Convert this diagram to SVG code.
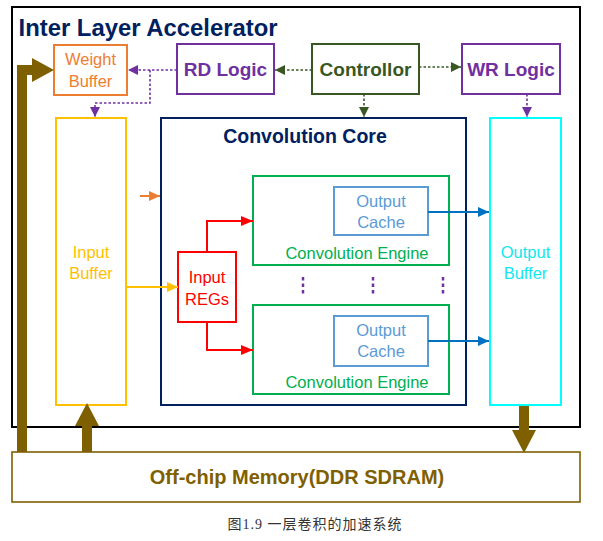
<svg xmlns="http://www.w3.org/2000/svg" width="603" height="541" viewBox="0 0 603 541">
<style>
text{font-family:"Liberation Sans",Arial,sans-serif;text-anchor:middle}
.b{font-weight:bold}
.n{font-size:16.5px}
.box{fill:#fff;stroke-width:2}
.dot{fill:none;stroke-width:1.6;stroke-dasharray:2.5 2}
.sol{fill:none;stroke-width:2}
</style>
<defs>
<marker id="aP" markerUnits="userSpaceOnUse" markerWidth="12" markerHeight="12" refX="10" refY="5" orient="auto"><path d="M0,0 L10,5 L0,10 Z" fill="#7030A0"/></marker>
<marker id="aG" markerUnits="userSpaceOnUse" markerWidth="12" markerHeight="12" refX="10" refY="5" orient="auto"><path d="M0,0 L10,5 L0,10 Z" fill="#385723"/></marker>
<marker id="aR" markerUnits="userSpaceOnUse" markerWidth="14" markerHeight="14" refX="12" refY="5" orient="auto"><path d="M0,0 L12,5 L0,10 Z" fill="#FF0000"/></marker>
<marker id="aO" markerUnits="userSpaceOnUse" markerWidth="14" markerHeight="14" refX="11" refY="5" orient="auto"><path d="M0,0 L11,5 L0,10 Z" fill="#ED7D31"/></marker>
<marker id="aY" markerUnits="userSpaceOnUse" markerWidth="14" markerHeight="14" refX="11" refY="5" orient="auto"><path d="M0,0 L11,5 L0,10 Z" fill="#FFC000"/></marker>
<marker id="aB" markerUnits="userSpaceOnUse" markerWidth="14" markerHeight="14" refX="11" refY="5" orient="auto"><path d="M0,0 L11,5 L0,10 Z" fill="#0070C0"/></marker>
</defs>
<rect width="603" height="541" fill="#fff"/>

<g id="accelerator">
<rect x="12" y="7" width="568" height="420" fill="#fff" stroke="#000" stroke-width="2"/>
<text x="148" y="36" class="b" font-size="23.5" fill="#002060" textLength="259" lengthAdjust="spacingAndGlyphs">Inter Layer Accelerator</text>
</g>

<g id="memory">
<rect x="12" y="452" width="568" height="50" fill="#fff" stroke="#7F6000" stroke-width="1.6"/>
<text x="297" y="484" class="b" font-size="20" fill="#7F6000">Off-chip Memory(DDR SDRAM)</text>
</g>

<g id="weight-buffer">
<rect x="54" y="45" width="73" height="50" class="box" stroke="#ED7D31"/>
<text x="90.5" y="65" class="n" fill="#ED7D31">Weight</text>
<text x="90.5" y="87" class="n" fill="#ED7D31">Buffer</text>
</g>

<g id="rd-logic">
<rect x="177" y="44" width="97" height="50" class="box" stroke="#7030A0"/>
<text x="225.5" y="76" class="b" font-size="19" fill="#7030A0">RD Logic</text>
</g>

<g id="controllor">
<rect x="312" y="44" width="107" height="50" class="box" stroke="#385723"/>
<text x="365.5" y="76" class="b" font-size="19" fill="#385723">Controllor</text>
</g>

<g id="wr-logic">
<rect x="462" y="44" width="98" height="50" class="box" stroke="#7030A0"/>
<text x="511" y="76" class="b" font-size="19" fill="#7030A0">WR Logic</text>
</g>

<g id="input-buffer">
<rect x="56" y="118" width="70" height="287" class="box" stroke="#FFC000"/>
<text x="91" y="258" class="n" fill="#FFC000">Input</text>
<text x="91" y="279" class="n" fill="#FFC000">Buffer</text>
</g>

<g id="convolution-core">
<rect x="161" y="118" width="305" height="287" class="box" stroke="#002060"/>
<text x="305" y="143" class="b" font-size="19.5" fill="#002060">Convolution Core</text>
</g>

<g id="input-regs">
<rect x="178" y="252" width="58" height="70" class="box" stroke="#FF0000"/>
<text x="207" y="283" class="n" fill="#FF0000">Input</text>
<text x="207" y="305" class="n" fill="#FF0000">REGs</text>
</g>

<g id="engine-1">
<rect x="253" y="176" width="196" height="89" class="box" stroke="#00B050"/>
<text x="357" y="259" class="n" fill="#00B050">Convolution Engine</text>
</g>
<g id="cache-1">
<rect x="334" y="187" width="94" height="48" class="box" stroke="#5B9BD5"/>
<text x="381" y="207" class="n" fill="#5B9BD5">Output</text>
<text x="381" y="228" class="n" fill="#5B9BD5">Cache</text>
</g>

<g id="engine-2">
<rect x="253" y="305" width="196" height="89" class="box" stroke="#00B050"/>
<text x="357" y="388" class="n" fill="#00B050">Convolution Engine</text>
</g>
<g id="cache-2">
<rect x="334" y="316" width="94" height="50" class="box" stroke="#5B9BD5"/>
<text x="381" y="336" class="n" fill="#5B9BD5">Output</text>
<text x="381" y="357" class="n" fill="#5B9BD5">Cache</text>
</g>

<g id="output-buffer">
<rect x="490" y="118" width="71" height="287" class="box" stroke="#00FFFF"/>
<text x="525.5" y="258" class="n" fill="#11E6F2">Output</text>
<text x="525.5" y="279" class="n" fill="#11E6F2">Buffer</text>
</g>

<g id="ellipsis" stroke="#7030A0" stroke-width="2.5" stroke-dasharray="3.5 3">
<line x1="303" y1="277" x2="303" y2="296"/>
<line x1="373" y1="277" x2="373" y2="296"/>
<line x1="443" y1="277" x2="443" y2="296"/>
</g>

<g id="connectors">
<path d="M312,70 H275" class="dot" stroke="#385723" marker-end="url(#aG)"/>
<path d="M419,67 H461" class="dot" stroke="#385723" marker-end="url(#aG)"/>
<path d="M364,94 V117" class="dot" stroke="#385723" marker-end="url(#aG)"/>
<path d="M177,70 H128" class="dot" stroke="#7030A0" marker-end="url(#aP)"/>
<path d="M150,70 V103 H95 V117" class="dot" stroke="#7030A0" marker-end="url(#aP)"/>
<path d="M527,94 V117" class="dot" stroke="#7030A0" marker-end="url(#aP)"/>
<path d="M140,196 H160" class="sol" stroke="#ED7D31" marker-end="url(#aO)"/>
<path d="M127,287 H178" class="sol" stroke="#FFC000" marker-end="url(#aY)"/>
<path d="M207,252 V221 H253" class="sol" stroke="#FF0000" marker-end="url(#aR)"/>
<path d="M207,322 V350 H253" class="sol" stroke="#FF0000" marker-end="url(#aR)"/>
<path d="M428,212 H489" class="sol" stroke="#0070C0" marker-end="url(#aB)"/>
<path d="M428,341 H489" class="sol" stroke="#0070C0" marker-end="url(#aB)"/>
<path d="M17,452 V65 H32 V58 L54,70 L32,82 V75 H27 V452 Z" fill="#7F6000"/>
<path d="M82,452 V426 H75 L87,403 L99,426 H92 V452 Z" fill="#7F6000"/>
<path d="M519,406 V430 H512 L524,453 L536,430 H529 V406 Z" fill="#7F6000"/>
</g>

<text x="315" y="529" font-size="14" letter-spacing="1" fill="#333" style="font-family:'Liberation Serif','Noto Sans CJK SC',serif">图1.9 一层卷积的加速系统</text>
</svg>
